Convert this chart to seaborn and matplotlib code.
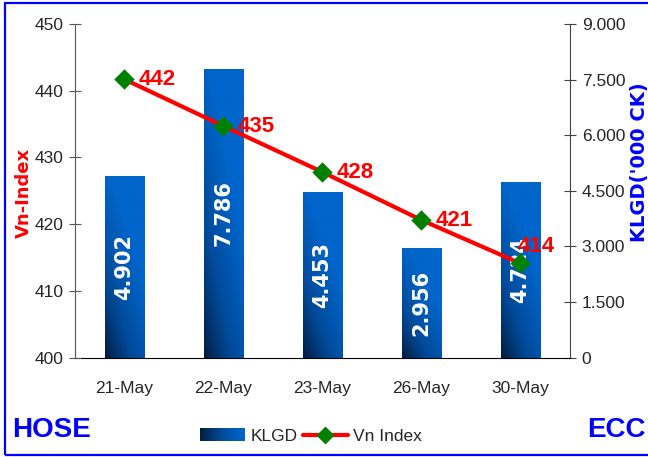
import numpy as np
import pandas as pd
import matplotlib
matplotlib.use("Agg")
import matplotlib.pyplot as plt
import seaborn as sns
from matplotlib import font_manager
from matplotlib.patches import Rectangle
from matplotlib.lines import Line2D
from matplotlib.legend_handler import HandlerBase
from matplotlib.colors import LinearSegmentedColormap
from matplotlib.ticker import FuncFormatter

OUT_PATH = "out.png"

DATES    = ["21-May", "22-May", "23-May", "26-May", "30-May"]
KLGD     = [4902, 7786, 4453, 2956, 4724]
VN_INDEX = [441.7, 434.7, 427.8, 420.6, 414.1]

KLGD_TICKS  = [0, 1500, 3000, 4500, 6000, 7500, 9000]
INDEX_TICKS = [400, 410, 420, 430, 440, 450]

# where each index label sits relative to its marker (points)
LABEL_OFFSETS = [(10, 0), (10, 0), (10, 0), (10, 0), (-2, 12)]

DARK_BLUE   = "#03193a"
BRIGHT_BLUE = "#0066cc"
bar_cmap = LinearSegmentedColormap.from_list("bar", [DARK_BLUE, "#004a99", BRIGHT_BLUE])

sns.set_style("ticks")
installed = {f.name for f in font_manager.fontManager.ttflist}
NARROW = "Liberation Sans Narrow" if "Liberation Sans Narrow" in installed else "Liberation Sans"
plt.rcParams["font.family"] = [NARROW, "DejaVu Sans"]
TICK_SIZE = 14 if NARROW.endswith("Narrow") else 12.5


def dot_thousands(v, _pos=None):
    return f"{v:,.0f}".replace(",", ".")


class GradientHandler(HandlerBase):
    def create_artists(self, legend, orig_handle, xdescent, ydescent,
                       width, height, fontsize, trans):
        n = 30
        cols = bar_cmap(np.linspace(0.05, 1.0, n))
        rects = []
        for k in range(n):
            rects.append(Rectangle((-xdescent + width * k / n, -ydescent),
                                   width / n * 1.05, height,
                                   facecolor=cols[k], edgecolor="none",
                                   transform=trans))
        return rects


df = pd.DataFrame({"date": DATES, "klgd": KLGD, "vn": VN_INDEX})

fig = plt.figure(figsize=(6.48, 4.57), dpi=100)
ax_bar = fig.add_axes([0.1157, 0.2177, 0.7639, 0.7298])
ax_line = ax_bar.twinx()

# bars (right axis)
sns.barplot(data=df, x="date", y="klgd", ax=ax_bar, width=0.4,
            color=BRIGHT_BLUE, saturation=1)

uu, vv = np.meshgrid(np.linspace(0, 1, 64), np.linspace(0, 1, 64))
grad = np.clip(0.6 * uu + 0.9 * vv, 0, 1) ** 0.8
for p in ax_bar.patches:
    x0, w, h = p.get_x(), p.get_width(), p.get_height()
    im = ax_bar.imshow(grad, cmap=bar_cmap, extent=[x0, x0 + w, 0, h],
                       origin="lower", aspect="auto", zorder=p.get_zorder() + 0.1,
                       interpolation="bilinear")
    im.set_clip_path(p)

for p, v in zip(ax_bar.patches, KLGD):
    ax_bar.text(p.get_x() + p.get_width() / 2, p.get_height() / 2, dot_thousands(v),
                rotation=90, ha="center", va="center", color="white",
                fontsize=15, fontweight="bold", family="DejaVu Sans", zorder=5)

ax_bar.set_xlim(-0.5, len(DATES) - 0.5)
ax_bar.set_ylim(0, 9000)
ax_bar.set_yticks(KLGD_TICKS)
ax_bar.yaxis.set_major_formatter(FuncFormatter(dot_thousands))
ax_bar.yaxis.tick_right()
ax_bar.set_xlabel("")
ax_bar.set_ylabel("")

# line (left axis)
sns.pointplot(data=df, x="date", y="vn", ax=ax_line, color="red", markers="D",
              errorbar=None, markersize=8.5, linewidth=3)
for ln in ax_line.lines:
    ln.set_markerfacecolor("green")
    ln.set_markeredgecolor("green")

for i, (v, off) in enumerate(zip(VN_INDEX, LABEL_OFFSETS)):
    ax_line.annotate(f"{v:.0f}", (i, v), xytext=off, textcoords="offset points",
                     ha="left", va="center", color="red", fontsize=16,
                     fontweight="bold")

ax_line.set_ylim(400, 450)
ax_line.set_yticks(INDEX_TICKS)
ax_line.yaxis.tick_left()
ax_line.set_xlim(-0.5, len(DATES) - 0.5)
ax_line.set_xlabel("")
ax_line.set_ylabel("")

# spines and ticks
for ax in (ax_bar, ax_line):
    ax.spines["top"].set_visible(False)
ax_bar.spines["left"].set_visible(False)
ax_bar.spines["right"].set_color("#444444")
ax_bar.spines["bottom"].set_color("black")
ax_line.spines["right"].set_visible(False)
ax_line.spines["bottom"].set_visible(False)
ax_line.spines["left"].set_visible(True)
ax_line.spines["left"].set_color("#555555")

ax_bar.tick_params(axis="x", length=0, pad=17, labelsize=TICK_SIZE)
ax_bar.tick_params(axis="y", direction="inout", length=9, color="#444444",
                   labelsize=TICK_SIZE, pad=4, left=False, right=True,
                   labelleft=False, labelright=True)
ax_line.tick_params(axis="y", direction="inout", length=9, color="#555555",
                    labelsize=TICK_SIZE, pad=4, left=True, right=False,
                    labelleft=True, labelright=False)
ax_line.tick_params(axis="x", length=0, labelbottom=False)

# axis titles
fig.text(24 / 648, 1 - 193 / 457, "Vn-Index", rotation=90, color="red",
         fontsize=13, fontweight="bold", family="DejaVu Sans",
         ha="center", va="center")
fig.text(640 / 648, 1 - 162 / 457, "KLGD('000 CK)", rotation=90, color="blue",
         fontsize=14, fontweight="bold", family="DejaVu Sans",
         ha="center", va="center")

fig.text(12 / 648, 1 - 430 / 457, "HOSE", color="blue", fontsize=20,
         fontweight="bold", ha="left", va="center")
fig.text(646 / 648, 1 - 430 / 457, "ECC", color="blue", fontsize=20,
         fontweight="bold", ha="right", va="center")

# legend
bar_handle = Rectangle((0, 0), 1, 1)
line_handle = Line2D([], [], color="red", lw=3, marker="D", markersize=8,
                     markerfacecolor="green", markeredgecolor="green")
fig.legend([bar_handle, line_handle], ["KLGD", "Vn Index"],
           handler_map={Rectangle: GradientHandler()},
           loc="center", bbox_to_anchor=(311 / 648, 1 - 436 / 457), ncol=2,
           frameon=False, fontsize=TICK_SIZE, handlelength=2.6, handleheight=0.8,
           handletextpad=0.3, columnspacing=0.3)

# blue frame (right edge runs off the picture)
fig.patches.append(Rectangle((0.0077, 0.0044), 1.2, 0.989,
                             transform=fig.transFigure, fill=False,
                             edgecolor="#0000ff", linewidth=1.6))

fig.savefig(OUT_PATH, dpi=100)
plt.close(fig)
